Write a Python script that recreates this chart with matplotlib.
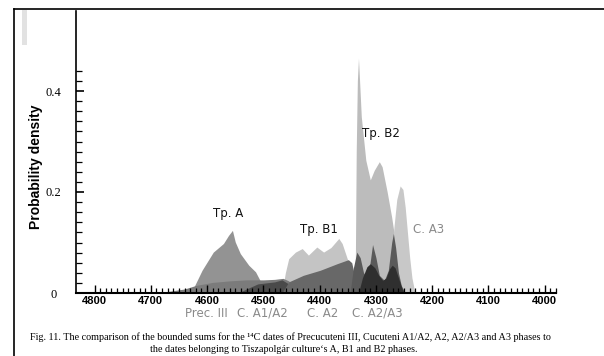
import matplotlib
matplotlib.use("Agg")
import matplotlib.pyplot as plt
from matplotlib.lines import Line2D
from matplotlib.patches import Rectangle
from matplotlib.ticker import FixedLocator

# ---------------- data (calendar years BC, probability density) ----------------
prec3_years = [4700, 4670, 4640, 4620, 4590, 4560, 4530, 4500, 4480, 4465, 4455, 4445, 4435]
prec3_vals = [0.0, 0.003, 0.008, 0.015, 0.021, 0.024, 0.026, 0.026, 0.027, 0.029, 0.024, 0.01, 0.0]

tpA_years = [4627, 4622, 4609, 4589, 4571, 4562, 4555, 4550, 4541, 4526, 4514, 4506, 4500, 4496]
tpA_vals = [0.0, 0.015, 0.045, 0.081, 0.098, 0.114, 0.124, 0.101, 0.078, 0.055, 0.042, 0.025, 0.01, 0.0]

ca1a2_years = [4545, 4530, 4510, 4495, 4480, 4467, 4458, 4445, 4430, 4410]
ca1a2_vals = [0.0, 0.008, 0.018, 0.02, 0.022, 0.026, 0.02, 0.01, 0.004, 0.0]

tpB1_years = [4467, 4461, 4455, 4443, 4431, 4420, 4405, 4393, 4380, 4366, 4360, 4351, 4344, 4338, 4332]
tpB1_vals = [0.0, 0.04, 0.068, 0.081, 0.088, 0.075, 0.091, 0.081, 0.09, 0.108, 0.098, 0.068, 0.045, 0.02, 0.0]

ca2_years = [4467, 4455, 4429, 4399, 4369, 4349, 4343, 4338, 4332]
ca2_vals = [0.0, 0.022, 0.035, 0.045, 0.058, 0.066, 0.06, 0.035, 0.0]

tpB2_years = [4337, 4335, 4333, 4331, 4326, 4318, 4310, 4303, 4294, 4289, 4280, 4272, 4264, 4256, 4248, 4240, 4232]
tpB2_vals = [0.0, 0.28, 0.42, 0.465, 0.349, 0.263, 0.224, 0.243, 0.26, 0.25, 0.2, 0.15, 0.09, 0.05, 0.025, 0.008, 0.0]

ca3_years = [4278, 4273, 4268, 4263, 4257, 4252, 4248, 4244, 4240, 4236, 4232, 4228]
ca3_vals = [0.0, 0.06, 0.13, 0.185, 0.212, 0.205, 0.17, 0.12, 0.07, 0.03, 0.008, 0.0]

ca2a3_years = [4346, 4340, 4334, 4328, 4322, 4316, 4311, 4306, 4300, 4294, 4285, 4278, 4272, 4269, 4265, 4260, 4255, 4248]
ca2a3_vals = [0.0, 0.05, 0.081, 0.07, 0.04, 0.03, 0.055, 0.096, 0.07, 0.035, 0.025, 0.045, 0.1, 0.118, 0.09, 0.04, 0.015, 0.0]

core_years = [4331, 4324, 4316, 4310, 4302, 4295, 4288, 4282, 4276, 4271, 4266, 4260, 4254, 4250]
core_vals = [0.0, 0.03, 0.052, 0.058, 0.05, 0.035, 0.025, 0.03, 0.048, 0.055, 0.05, 0.03, 0.01, 0.0]

x_major = [4800, 4700, 4600, 4500, 4400, 4300, 4200, 4100, 4000]
y_major = [0, 0.2, 0.4]
y_labels = ["0", "0.2", "0.4"]

top_labels = ["Tp. A", "Tp. B1", "Tp. B2"]
top_label_pos = [(4562, 0.157), (4401, 0.126), (4291, 0.316)]
bottom_labels = ["Prec. III", "C. A1/A2", "C. A2", "C. A2/A3"]
bottom_label_years = [4601, 4502, 4395, 4297]

caption1 = ("Fig. 11. The comparison of the bounded sums for the \u00b9\u2074C dates of Precucuteni III, "
            "Cucuteni A1/A2, A2, A2/A3 and A3 phases to")
caption2 = "the dates belonging to Tiszapolg\u00e1r culture\u2018s A, B1 and B2 phases."

# ---------------- figure ----------------
W, H = 604, 356
fig = plt.figure(figsize=(W / 100, H / 100), dpi=100)
fig.patch.set_facecolor("white")

ax_left, ax_right, ax_bottom_px, ax_top_px = 76, 556, 293, 11
ax = fig.add_axes([ax_left / W, (H - ax_bottom_px) / H,
                   (ax_right - ax_left) / W, (ax_bottom_px - ax_top_px) / H])
ax.set_xlim(4833, 3980)
ax.set_ylim(0, (ax_bottom_px - ax_top_px) / 505)

series = [
    (tpB2_years, tpB2_vals, "#bcbcbc"),
    (tpB1_years, tpB1_vals, "#c4c4c4"),
    (ca3_years, ca3_vals, "#c8c8c8"),
    (tpA_years, tpA_vals, "#939393"),
    (prec3_years, prec3_vals, "#7b7b7b"),
    (ca1a2_years, ca1a2_vals, "#4a4a4a"),
    (ca2_years, ca2_vals, "#686868"),
    (ca2a3_years, ca2a3_vals, "#5a5a5a"),
    (core_years, core_vals, "#2f2f2f"),
]
for xs, ys, c in series:
    ax.fill_between(xs, ys, 0, color=c, linewidth=0)

# spines
for s in ["top", "right"]:
    ax.spines[s].set_visible(False)
ax.spines["left"].set_linewidth(1.2)
ax.spines["bottom"].set_linewidth(1.5)

# ticks
ax.xaxis.set_major_locator(FixedLocator(x_major))
ax.xaxis.set_minor_locator(FixedLocator(list(range(4800, 3979, -10))))
ax.set_xticklabels([str(v) for v in x_major], fontfamily="Liberation Sans",
                   fontweight="bold", fontsize=8)
ax.tick_params(axis="x", which="major", direction="in", length=6, width=1, pad=2)
ax.tick_params(axis="x", which="minor", direction="in", length=3.5, width=0.9)

ax.yaxis.set_major_locator(FixedLocator(y_major))
ax.yaxis.set_minor_locator(FixedLocator([i * 0.02 for i in range(1, 23)]))
ax.set_yticklabels(y_labels, fontfamily="Liberation Serif", fontsize=9)
ax.tick_params(axis="y", which="major", direction="in", length=6, width=1.2, pad=16)
ax.tick_params(axis="y", which="minor", direction="in", length=4, width=0.9)
for lbl in ax.get_yticklabels():
    lbl.set_horizontalalignment("center")

ax.set_ylabel("Probability density", fontfamily="Liberation Sans", fontweight="bold",
              fontsize=10)
ax.yaxis.set_label_coords((43 - ax_left) / (ax_right - ax_left), (293 - 167) / (293 - 11))

# series labels
for txt, (x, y) in zip(top_labels, top_label_pos):
    ax.text(x, y, txt, fontsize=8.5, color="#111111", ha="center", va="center",
            fontfamily="DejaVu Sans")
ax.text(4207, 0.126, "C. A3", fontsize=8.5, color="#8a8a8a", ha="center", va="center",
        fontfamily="DejaVu Sans")
for txt, x in zip(bottom_labels, bottom_label_years):
    ax.text(x, -0.04, txt, fontsize=8.5, color="#8a8a8a", ha="center", va="center",
            fontfamily="DejaVu Sans", clip_on=False)

# caption
fig.text(290 / W, 1 - 337 / H, caption1, ha="center", va="center", fontsize=7.3,
         family=["Liberation Serif", "DejaVu Serif"])
fig.text(284 / W, 1 - 350 / H, caption2, ha="center", va="center", fontsize=7.3,
         family=["Liberation Serif", "DejaVu Serif"])

# frame of the scanned figure
fig.add_artist(Line2D([14 / W, 14 / W], [0, 1 - 9 / H], color="black", lw=1.2,
                      transform=fig.transFigure))
fig.add_artist(Line2D([14 / W, 1], [1 - 9 / H, 1 - 9 / H], color="black", lw=1.2,
                      transform=fig.transFigure))
fig.add_artist(Rectangle((22 / W, 1 - 45 / H), 5 / W, 35 / H, color="#e2e2e2",
                         transform=fig.transFigure, lw=0))

fig.savefig("out.png", dpi=100)
